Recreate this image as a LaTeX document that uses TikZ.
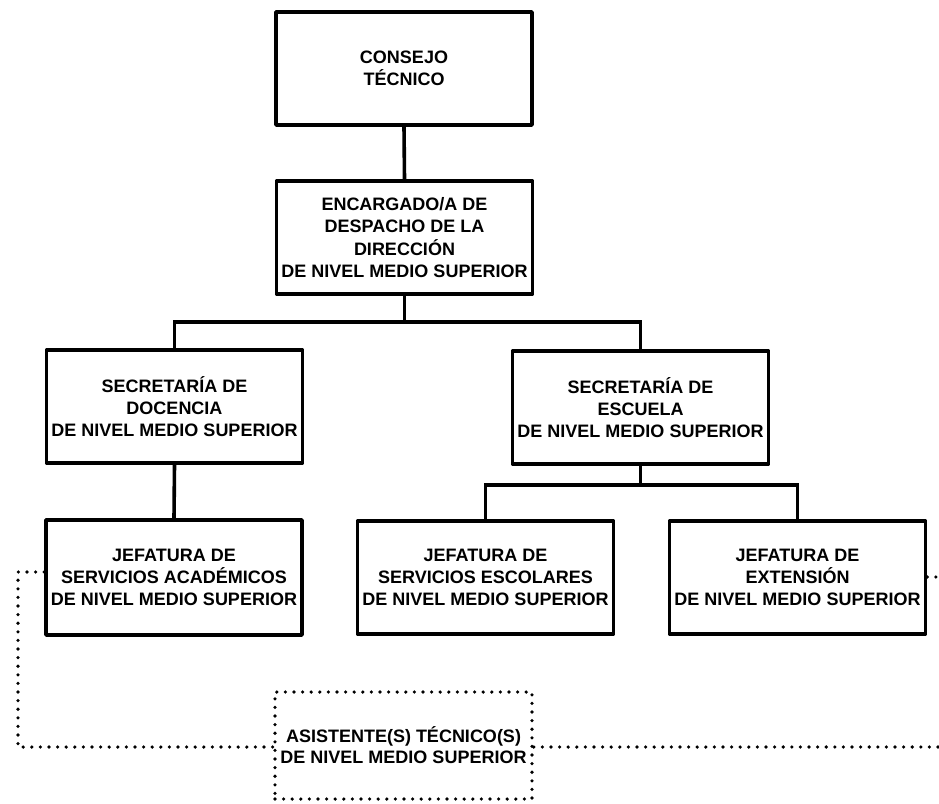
\documentclass[tikz,border=0pt]{standalone}
\usepackage{fontspec}
\setmainfont{Liberation Sans}
\begin{document}
\begin{tikzpicture}[x=1pt,y=-1pt,
  orgbox/.style={draw=black, line width=3.6pt, line join=round, minimum width=256pt, minimum height=113pt, inner sep=0pt, align=center, font=\bfseries\fontsize{18}{22.3}\selectfont},
  conn/.style={draw=black, line width=3.6pt},
  dotline/.style={draw=black, line width=3.6pt, line cap=round, dash pattern=on 0pt off 8.6pt},
  dotbox/.style={dotline, minimum width=257pt, minimum height=107pt, inner sep=0pt, align=center, font=\bfseries\fontsize{18}{21}\selectfont}]
\useasboundingbox (0,0) rectangle (939,803);
\node[orgbox] (b1) at (404,68.5) {CONSEJO\\TÉCNICO};
\node[orgbox] (b2) at (404.5,237.5) {ENCARGADO/A DE\\DESPACHO DE LA\\DIRECCIÓN\\DE NIVEL MEDIO SUPERIOR};
\node[orgbox] (b3) at (174.5,406.5) {SECRETARÍA DE\\DOCENCIA\\DE NIVEL MEDIO SUPERIOR};
\node[orgbox] (b4) at (640.5,407.5) {SECRETARÍA DE\\ESCUELA\\DE NIVEL MEDIO SUPERIOR};
\node[orgbox, minimum height=115pt] (b5) at (174,577.5) {JEFATURA DE\\SERVICIOS ACADÉMICOS\\DE NIVEL MEDIO SUPERIOR};
\node[orgbox] (b6) at (485.5,577.5) {JEFATURA DE\\SERVICIOS ESCOLARES\\DE NIVEL MEDIO SUPERIOR};
\node[orgbox] (b7) at (797.5,577.5) {JEFATURA DE\\EXTENSIÓN\\DE NIVEL MEDIO SUPERIOR};
\node[dotbox] (b8) at (403.5,745.5) {ASISTENTE(S) TÉCNICO(S)\\DE NIVEL MEDIO SUPERIOR};
\coordinate (j1) at (404.5,322);
\coordinate (j2) at (640.5,485);
\draw[conn] (b1.south) -- (b2.north);
\draw[conn] (b2.south) -- (j1);
\draw[conn] (b3.north) |- (j1) -| (b4.north);
\draw[conn] (b3.south) -- (b5.north);
\draw[conn] (b4.south) -- (j2);
\draw[conn] (b6.north) |- (j2) -| (b7.north);
\coordinate (l1) at (18,572);
\coordinate (l2) at (18,747);
\coordinate (r1) at (939,577);
\coordinate (r2) at (939,747);
\draw[dotline] (b5.west |- l1) -- (l1) -- (l2) -- (b8.west |- l2);
\draw[dotline] (b7.east |- r1) -- (r1);
\draw[dotline] (b8.east |- r2) -- (r2);
\end{tikzpicture}
\end{document}
